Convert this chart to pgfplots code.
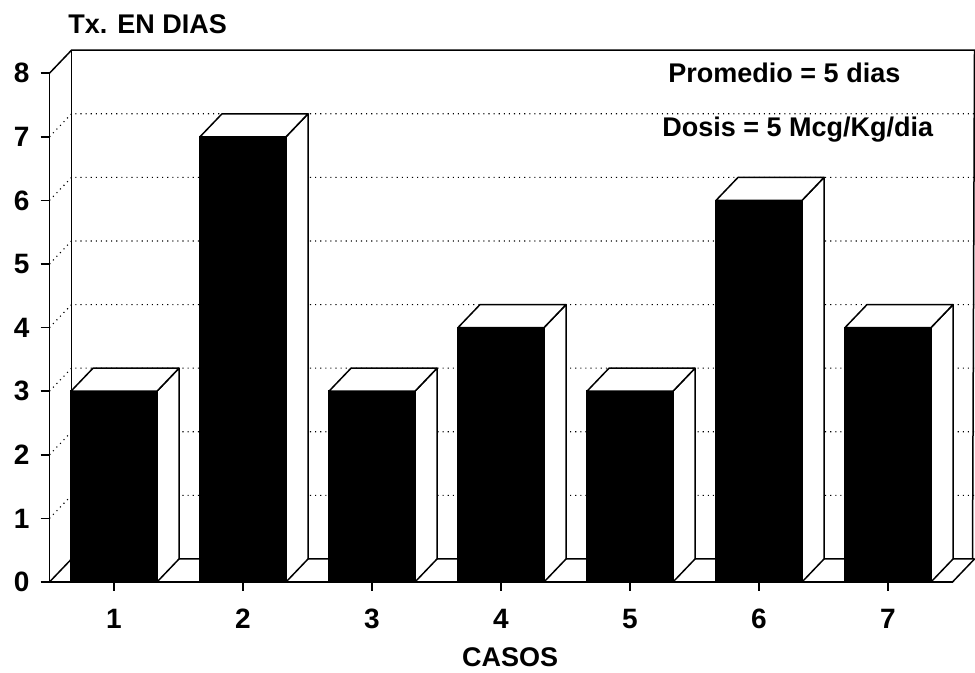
\documentclass[border=0pt]{standalone}
\usepackage{fontspec}
\setmainfont{Liberation Sans}
\usepackage{pgfplots}
\usepackage{pgfplotstable}
\pgfplotsset{compat=1.18}
\pgfdeclareplotmark{emptymark}{}
\pgfplotstableread{
caso dias
1 3
2 7
3 3
4 4
5 3
6 6
7 4
}\datos
\begin{document}
\begin{tikzpicture}[font=\bfseries\fontsize{13.5}{16}\selectfont]
\useasboundingbox (-24.75pt,-45.5pt) rectangle (462.75pt,291pt);
\clip (-24.75pt,-45.5pt) rectangle (462.75pt,291pt);
\begin{axis}[
  at={(0,0)}, anchor=south west,
  x=64.5pt, y=31.8pt,
  xmin=0.5, xmax=7.5, ymin=0, ymax=8,
  axis lines*=left,
  axis line style={line width=0.75pt},
  xtick={1,...,7}, ytick={0,...,8},
  tick align=outside,
  tick style={black, line width=0.75pt},
  major tick length=4.5pt,
  /pgf/number format/assume math mode=true,
  ticklabel style={font=\bfseries\fontsize{14}{16}\selectfont},
  xticklabel style={yshift=-5.5pt},
  yticklabel style={xshift=-2pt},
  xlabel={CASOS},
  xlabel style={at={(axis description cs:0.51,0)}, anchor=center, yshift=-37.5pt, font=\bfseries\fontsize{13.5}{16}\selectfont},
  clip=false,
]
% back wall and left wall grid
\pgfplotsinvokeforeach{1,...,7}{
  \draw[dotted, line width=0.55pt] (axis cs:0.5,#1) -- ([xshift=11pt,yshift=11.5pt]axis cs:0.5,#1) -- ([xshift=11pt,yshift=11.5pt]axis cs:7.5,#1);
}
\draw[line width=0.75pt] (axis cs:0.5,8) -- ([xshift=11pt,yshift=11.5pt]axis cs:0.5,8) -- ([xshift=11pt,yshift=11.5pt]axis cs:7.5,8) -- ([xshift=10pt,yshift=11.5pt]axis cs:7.5,0);
\draw[line width=0.75pt] ([xshift=11pt,yshift=11.5pt]axis cs:0.5,8) -- ([xshift=11pt,yshift=11.5pt]axis cs:0.5,0);
\draw[line width=0.75pt] (axis cs:0.5,0) -- ([xshift=11pt,yshift=11.5pt]axis cs:0.5,0) -- ([xshift=11pt,yshift=11.5pt]axis cs:7.5,0);
\draw[line width=0.75pt] (axis cs:7.5,0) -- ([xshift=11pt,yshift=11.5pt]axis cs:7.5,0);
% front faces of bars
\addplot[ybar, bar width=0.6667, fill=black, draw=black, line width=0.75pt] table[x=caso, y=dias]{\datos};
% top and side faces of bars
\addplot[scatter, only marks, mark=emptymark,
  visualization depends on={\thisrow{dias} \as \valor},
  scatter/@pre marker code/.code={
    \filldraw[fill=white, draw=black, line width=0.75pt, line join=round]
      (21.5pt,0pt) -- (32.5pt,11.5pt) -- (32.5pt,{11.5pt-\valor*31.8pt}) -- (21.5pt,{-\valor*31.8pt}) -- cycle;
    \filldraw[fill=white, draw=black, line width=0.75pt, line join=round]
      (-21.5pt,0pt) -- (21.5pt,0pt) -- (32.5pt,11.5pt) -- (-10.5pt,11.5pt) -- cycle;
  },
  scatter/@post marker code/.code={},
] table[x=caso, y=dias]{\datos};
% annotations
\node[anchor=west, inner sep=0pt, font=\bfseries\fontsize{13.5}{16}\selectfont] at (axis cs:5.295,8.0) {Promedio = 5 dias};
\node[anchor=west, inner sep=0pt, font=\bfseries\fontsize{13.5}{16}\selectfont] at (axis cs:5.248,7.11) {Dosis = 5 Mcg/Kg/dia};
\node[anchor=west, inner sep=0pt, font=\bfseries\fontsize{13.5}{16}\selectfont] at (axis description cs:0.0205,1.0967) {Tx. EN DIAS};
\end{axis}
\end{tikzpicture}
\end{document}
